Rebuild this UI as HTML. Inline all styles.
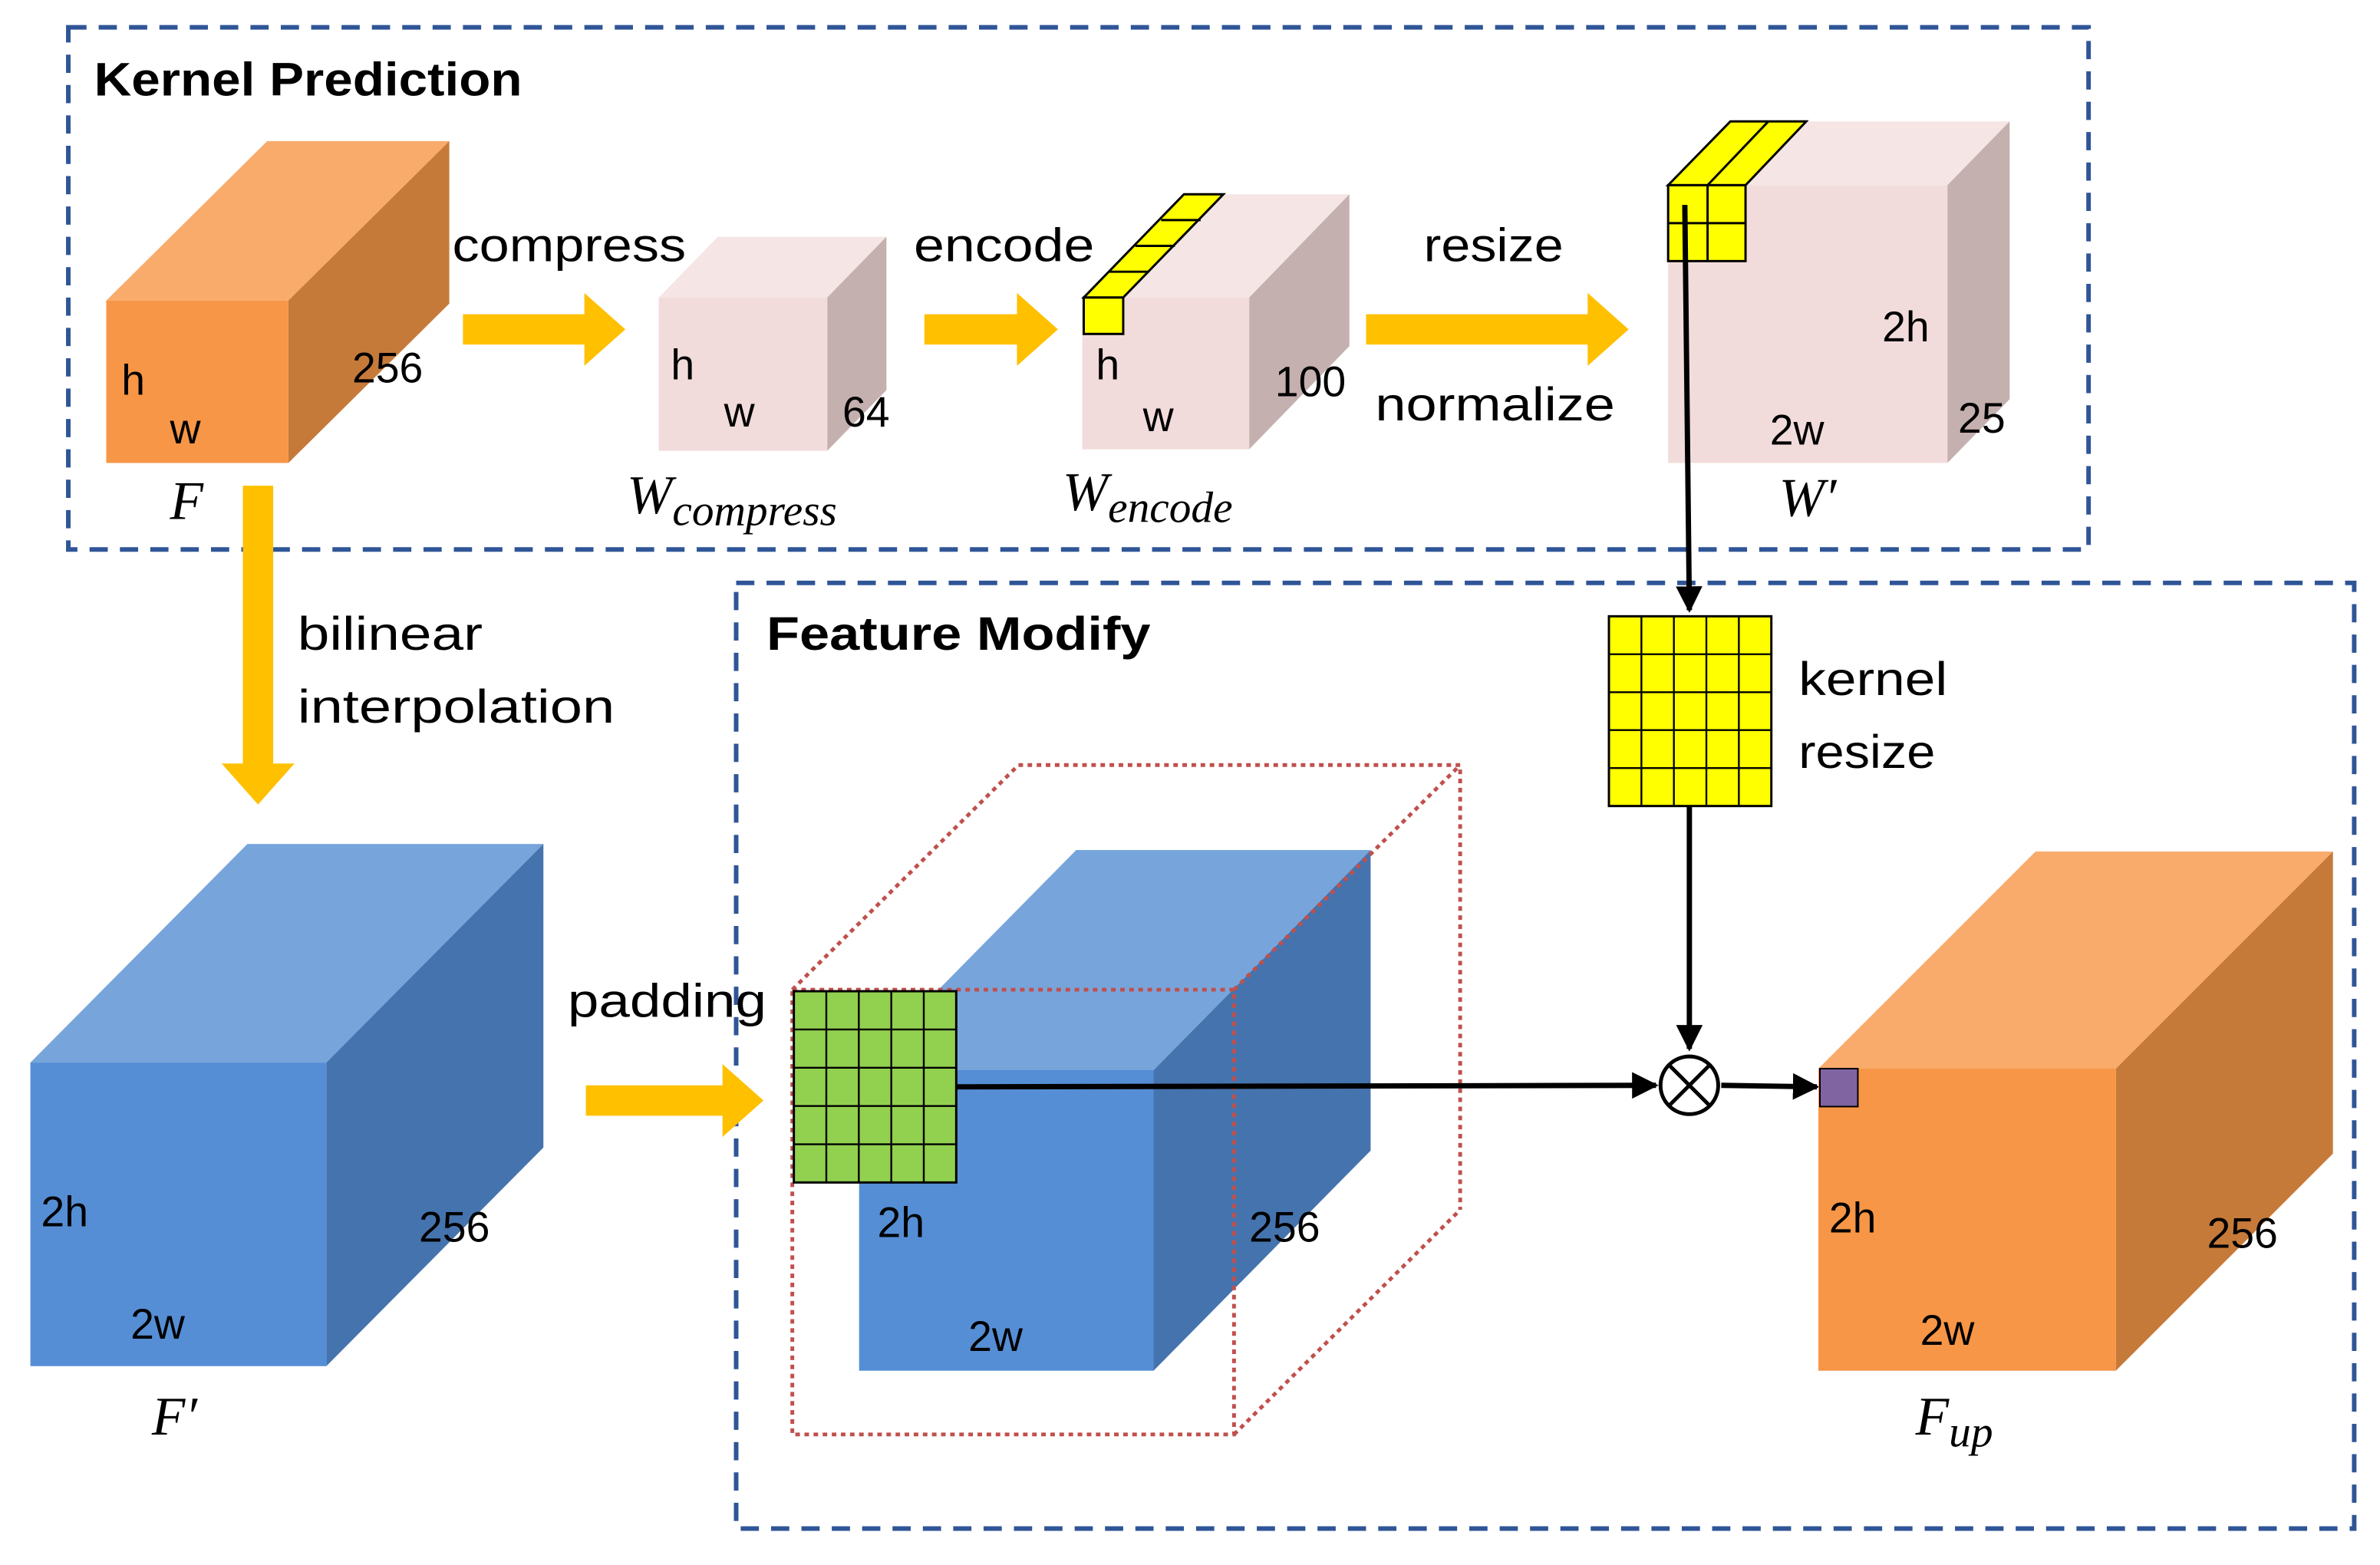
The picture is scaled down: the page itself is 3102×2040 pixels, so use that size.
<!DOCTYPE html>
<html><head><style>html,body{margin:0;padding:0;background:#fff}svg{display:block}</style></head><body>
<svg width="3102" height="2040" viewBox="0 0 1568 1031" preserveAspectRatio="none" xmlns="http://www.w3.org/2000/svg" font-family="Liberation Sans, sans-serif">
<defs>
<marker id="ah" viewBox="0 0 10 10" refX="9" refY="5" markerWidth="5" markerHeight="5" orient="auto"><path d="M0,0L10,5L0,10z" fill="#000"/></marker>
</defs>
<rect x="45" y="18" width="1331" height="344" fill="none" stroke="#2F5597" stroke-width="3" stroke-dasharray="12,8"/>
<rect x="485" y="384" width="1066" height="623" fill="none" stroke="#2F5597" stroke-width="3" stroke-dasharray="12,8"/>
<text x="62" y="63" font-size="31" font-weight="bold" textLength="282" lengthAdjust="spacingAndGlyphs">Kernel Prediction</text>
<text x="505" y="428" font-size="31" font-weight="bold" textLength="253" lengthAdjust="spacingAndGlyphs">Feature Modify</text>

<polygon points="70,198 190,198 296,93 176,93" fill="#F8AB6B"/>
<polygon points="190,198 296,93 296,200 190,305" fill="#C67A3A"/>
<rect x="70" y="198" width="120" height="107" fill="#F79646"/>
<g font-size="28"><text x="80" y="260">h</text><text x="112" y="292">w</text><text x="232" y="252">256</text></g>
<text x="112" y="342" font-size="36" font-style="italic" font-family="Liberation Serif, serif">F</text>

<polygon points="434,196 545,196 584,156 473,156" fill="#F5E6E5"/>
<polygon points="545,196 584,156 584,257 545,297" fill="#C4B0AE"/>
<rect x="434" y="196" width="111" height="101" fill="#F2DCDB"/>
<g font-size="28"><text x="442" y="250">h</text><text x="477" y="281">w</text><text x="555" y="281">64</text></g>
<text x="413" y="338" font-size="36" font-style="italic" font-family="Liberation Serif, serif">W<tspan font-size="29" dy="8">compress</tspan></text>

<polygon points="713,196 823,196 889,128 779,128" fill="#F5E6E5"/>
<polygon points="823,196 889,128 889,228 823,296" fill="#C4B0AE"/>
<rect x="713" y="196" width="110" height="100" fill="#F2DCDB"/>
<g fill="#FFFF00" stroke="#000" stroke-width="1.5">
<polygon points="714,196 740,196 806,128 780,128"/>
<line x1="757" y1="179" x2="731" y2="179"/><line x1="774" y1="162" x2="748" y2="162"/><line x1="791" y1="145" x2="765" y2="145"/>
<rect x="714" y="196" width="26" height="24"/>
</g>
<g font-size="28"><text x="722" y="250">h</text><text x="753" y="284">w</text><text x="840" y="261">100</text></g>
<text x="700" y="336" font-size="36" font-style="italic" font-family="Liberation Serif, serif">W<tspan font-size="29" dy="8">encode</tspan></text>

<polygon points="1099,122 1283,122 1324,80 1140,80" fill="#F5E6E5"/>
<polygon points="1283,122 1324,80 1324,263 1283,305" fill="#C4B0AE"/>
<rect x="1099" y="122" width="184" height="183" fill="#F2DCDB"/>
<g fill="#FFFF00" stroke="#000" stroke-width="1.5">
<polygon points="1099,122 1150,122 1190,80 1140,80"/>
<line x1="1125" y1="122" x2="1165" y2="80"/>
<rect x="1099" y="122" width="51" height="50"/>
<line x1="1125" y1="122" x2="1125" y2="172"/><line x1="1099" y1="147" x2="1150" y2="147"/>
</g>
<g font-size="28"><text x="1240" y="225">2h</text><text x="1166" y="293">2w</text><text x="1290" y="285">25</text></g>
<text x="1172" y="340" font-size="36" font-style="italic" font-family="Liberation Serif, serif">W′</text>

<g fill="#FFC000">
<polygon points="305,207 385,207 385,193 412,217 385,241 385,227 305,227"/>
<polygon points="609,207 670,207 670,193 697,217 670,241 670,227 609,227"/>
<polygon points="900,207 1046,207 1046,193 1073,217 1046,241 1046,227 900,227"/>
<polygon points="160,320 180,320 180,503 194,503 170,530 146,503 160,503"/>
<polygon points="386,715 476,715 476,701 503,725 476,749 476,735 386,735"/>
</g>
<g font-size="31">
<text x="298" y="172" textLength="154" lengthAdjust="spacingAndGlyphs">compress</text>
<text x="602" y="172" textLength="119" lengthAdjust="spacingAndGlyphs">encode</text>
<text x="938" y="172" textLength="92" lengthAdjust="spacingAndGlyphs">resize</text>
<text x="906" y="277" textLength="158" lengthAdjust="spacingAndGlyphs">normalize</text>
<text x="196" y="428" textLength="122" lengthAdjust="spacingAndGlyphs">bilinear</text>
<text x="196" y="476" textLength="209" lengthAdjust="spacingAndGlyphs">interpolation</text>
<text x="374" y="670" textLength="131" lengthAdjust="spacingAndGlyphs">padding</text>
<text x="1185" y="458" textLength="98" lengthAdjust="spacingAndGlyphs">kernel</text>
<text x="1185" y="506" textLength="90" lengthAdjust="spacingAndGlyphs">resize</text>
</g>

<polygon points="20,700 215,700 358,556 163,556" fill="#77A5DB"/>
<polygon points="215,700 358,556 358,756 215,900" fill="#4573AD"/>
<rect x="20" y="700" width="195" height="200" fill="#558ED5"/>
<g font-size="28"><text x="27" y="808">2h</text><text x="86" y="882">2w</text><text x="276" y="818">256</text></g>
<text x="100" y="945" font-size="36" font-style="italic" font-family="Liberation Serif, serif">F′</text>

<polygon points="566,705 760,705 903,560 709,560" fill="#77A5DB"/>
<polygon points="760,705 903,560 903,758 760,903" fill="#4573AD"/>
<rect x="566" y="705" width="194" height="198" fill="#558ED5"/>
<g font-size="28" fill="#000"><text x="578" y="815">2h</text><text x="638" y="890">2w</text><text x="823" y="818">256</text></g>

<g fill="none" stroke="#C0504D" stroke-width="2.5" stroke-dasharray="3,3">
<rect x="522" y="652" width="291" height="293"/>
<polyline points="671,504 962,504 962,797"/>
<line x1="522" y1="652" x2="671" y2="504"/>
<line x1="813" y1="652" x2="962" y2="504"/>
<line x1="813" y1="945" x2="962" y2="797"/>
</g>

<rect x="523" y="653" width="107" height="126" fill="#92D050" stroke="#000" stroke-width="1.5"/>
<g stroke="#000" stroke-width="1.2">
<line x1="544.4" y1="653" x2="544.4" y2="779"/><line x1="565.8" y1="653" x2="565.8" y2="779"/><line x1="587.2" y1="653" x2="587.2" y2="779"/><line x1="608.6" y1="653" x2="608.6" y2="779"/>
<line x1="523" y1="678.2" x2="630" y2="678.2"/><line x1="523" y1="703.4" x2="630" y2="703.4"/><line x1="523" y1="728.6" x2="630" y2="728.6"/><line x1="523" y1="753.8" x2="630" y2="753.8"/>
</g>

<rect x="1060" y="406" width="107" height="125" fill="#FFFF00" stroke="#000" stroke-width="1.5"/>
<g stroke="#000" stroke-width="1.2">
<line x1="1081.4" y1="406" x2="1081.4" y2="531"/><line x1="1102.8" y1="406" x2="1102.8" y2="531"/><line x1="1124.2" y1="406" x2="1124.2" y2="531"/><line x1="1145.6" y1="406" x2="1145.6" y2="531"/>
<line x1="1060" y1="431" x2="1167" y2="431"/><line x1="1060" y1="456" x2="1167" y2="456"/><line x1="1060" y1="481" x2="1167" y2="481"/><line x1="1060" y1="506" x2="1167" y2="506"/>
</g>

<g stroke="#000" stroke-width="3.5" fill="none">
<line x1="1110" y1="135" x2="1113" y2="402" marker-end="url(#ah)"/>
<line x1="1113" y1="531" x2="1113" y2="691" marker-end="url(#ah)"/>
<line x1="630" y1="716" x2="1091" y2="715" marker-end="url(#ah)"/>
<line x1="1134" y1="715" x2="1197" y2="716" marker-end="url(#ah)"/>
</g>
<circle cx="1113" cy="715" r="19" fill="#fff" stroke="#000" stroke-width="2.5"/>
<line x1="1100" y1="702" x2="1126" y2="728" stroke="#000" stroke-width="2.5"/>
<line x1="1126" y1="702" x2="1100" y2="728" stroke="#000" stroke-width="2.5"/>

<polygon points="1198,704 1394,704 1537,561 1341,561" fill="#F8AB6B"/>
<polygon points="1394,704 1537,561 1537,760 1394,903" fill="#C67A3A"/>
<rect x="1198" y="704" width="196" height="199" fill="#F79646"/>
<rect x="1199" y="704" width="25" height="25" fill="#8064A2" stroke="#000" stroke-width="1"/>
<g font-size="28"><text x="1205" y="812">2h</text><text x="1265" y="886">2w</text><text x="1454" y="822">256</text></g>
<text x="1262" y="945" font-size="36" font-style="italic" font-family="Liberation Serif, serif">F<tspan font-size="29" dy="8">up</tspan></text>
</svg>
</body></html>
